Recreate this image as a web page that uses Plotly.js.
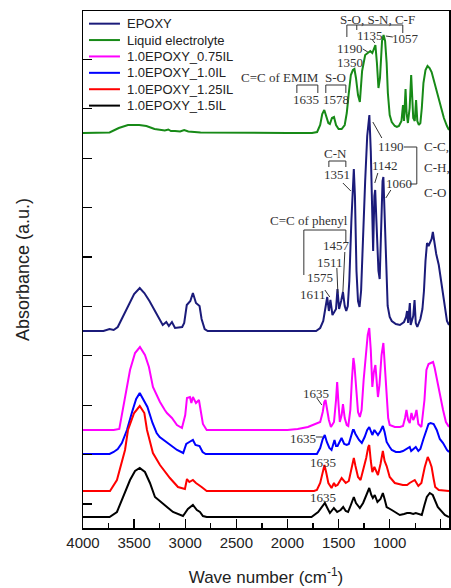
<!DOCTYPE html>
<html><head><meta charset="utf-8">
<script src="https://cdn.plot.ly/plotly-3.0.1.min.js"></script>
<style>html,body{margin:0;padding:0;background:#fff}#chart{width:451px;height:588px}</style>
</head><body><div id="chart"></div>
<script>
// Series names (legend order)
const seriesNames = ["EPOXY", "Liquid electrolyte", "1.0EPOXY_0.75IL", "1.0EPOXY_1.0IL", "1.0EPOXY_1.25IL", "1.0EPOXY_1.5IL"];
// Vertical stacking offsets (a.u.) of each spectrum
const offsets = [197, 395, 98, 74, 37, 11];
const colors = ["#1b1b7a", "#178a17", "#ff00ff", "#0000ff", "#ff0000", "#000000"];

// Wave numbers (cm-1) and relative absorbance
const epoxyWn = [4000,3800,3740,3700,3660,3620,3560,3500,3445,3400,3350,3318,3270,3220,3185,3160,3130,3100,3030,3010,2985,2950,2925,2895,2860,2840,2810,2780,1720,1680,1650,1630,1611,1595,1580,1560,1540,1525,1511,1495,1475,1457,1440,1425,1410,1395,1375,1360,1351,1340,1325,1310,1295,1280,1260,1240,1220,1205,1199,1185,1170,1162,1150,1142,1130,1110,1098,1085,1070,1062,1050,1035,1020,1000,980,940,900,860,840,830,820,810,803,795,770,757,745,730,700,680,665,650,635,620,605,590,578,565,545,520,500,480,460,440,420];
const epoxyA  = [0,0,2,1,4,12,25,37,43,38,30,24,15,6,9,5,9,3,4,8,26,30,38,28,25,12,2,0,0,3,10,22,34,20,31,16,20,22,42,22,30,39,25,20,25,50,110,155,162,135,60,30,24,40,100,150,195,213,216,180,115,80,135,141,110,60,52,100,150,154,120,60,25,14,10,7,6,9,14,20,8,20,28,6,15,31,8,4,12,22,40,70,88,85,88,92,99,90,77,66,52,35,20,10,6];

const liquidWn = [4000,3800,3740,3650,3560,3450,3380,3300,3200,3165,3140,3100,3050,3010,2970,2850,2500,2000,1760,1710,1680,1660,1640,1620,1600,1585,1565,1545,1525,1500,1470,1440,1420,1400,1380,1360,1345,1330,1310,1292,1270,1240,1215,1190,1170,1150,1140,1125,1110,1095,1075,1060,1045,1030,1018,1000,980,950,930,910,885,870,860,845,835,822,805,790,780,770,755,742,730,715,700,686,670,650,630,610,590,570,545,520,500,470,440,420];
const liquidA  = [0,0,0.5,5,8,8,7,4,2.5,3.5,2,2,1.5,3,1.5,0.5,0,0,0,1,8,19,23,17,10,9,15,16,8,4,4,8,20,40,58,63,64,55,38,31,62,78,80,82,80,85,88,70,45,55,92,98,92,70,40,18,11,7,6,7,12,28,12,44,20,10,25,58,40,15,12,33,12,8,10,25,50,63,67,65,61,53,43,33,25,15,7,3];

const il075Wn = [4000,3700,3645,3589,3540,3491,3443,3394,3355,3316,3247,3200,3179,3130,3081,3032,3000,2983,2954,2940,2925,2895,2866,2827,2790,2000,1900,1800,1720,1680,1655,1640,1628,1615,1595,1575,1545,1525,1514,1500,1488,1470,1457,1440,1420,1405,1385,1370,1355,1345,1330,1310,1292,1275,1255,1235,1215,1200,1185,1170,1155,1140,1128,1115,1100,1080,1062,1045,1030,1015,1000,950,900,870,850,836,820,804,787,770,755,738,720,690,660,641,620,600,576,560,543,520,500,478,450,420];
const il075A  = [0,0,1,33,60,77,83,75,63,43,28,20,17,12,5,2,15,32,33,27,33,27,30,6,0,0,1,3,6,8,18,28,30,22,10,3,8,30,48,25,8,15,26,12,5,4,20,50,72,65,40,18,13,20,50,75,95,102,80,43,58,65,50,33,45,75,87,60,30,12,5,3,3,4,12,20,10,7,17,10,13,20,6,3,30,60,66,67,68,62,53,40,30,20,8,3];

const il10Wn = [4000,3740,3700,3660,3620,3570,3520,3480,3445,3410,3370,3320,3280,3250,3180,3080,3020,2990,2960,2925,2900,2860,2830,2800,1740,1712,1680,1655,1635,1615,1590,1569,1540,1525,1510,1490,1471,1445,1420,1400,1380,1360,1351,1335,1300,1273,1245,1220,1200,1185,1170,1150,1130,1115,1090,1067,1050,1030,1000,980,940,900,870,840,804,790,770,745,720,700,670,637,620,600,570,540,510,478,440,420];
const il10A  = [0,0,2,5,11,24,42,55,61,55,47,31,21,17,12,4,1,10,12,14,9,8,2,0,0,0,6,15,19,12,6,4,14,8,8,12,16,10,9,10,18,24,24,20,14,11,17,24,27,23,19,24,21,19,23,28,22,12,7,4,2,2,3,5,7,3,5,7,3,5,15,24,30,31,30,24,15,11,4,2];

const il125Wn = [4000,3736,3668,3589,3560,3500,3445,3400,3374,3316,3247,3150,3071,3003,2983,2960,2925,2895,2840,2790,1740,1712,1680,1655,1638,1620,1600,1569,1545,1530,1510,1470,1430,1400,1380,1360,1351,1335,1310,1285,1260,1230,1210,1200,1185,1170,1150,1115,1090,1067,1050,1030,1000,950,872,830,805,755,720,690,657,628,610,590,570,555,520,420];
const il125A  = [0,0,11,41,61,78,85,78,61,38,26,13,4,2,12,9,11,8,4,0,0,1,8,20,26,18,8,3,8,5,6,13,8,10,20,32,33,25,14,11,20,33,44,46,30,19,24,16,27,40,30,25,14,8,6,6,8,11,5,8,24,34,30,24,12,4,1,0];

const il15Wn = [4000,3740,3668,3609,3540,3491,3445,3394,3345,3296,3218,3120,3022,2974,2925,2886,2856,2827,2790,1765,1700,1660,1634,1610,1585,1546,1514,1480,1455,1430,1407,1380,1351,1330,1292,1260,1230,1200,1180,1165,1146,1120,1090,1067,1050,1030,980,901,860,830,800,770,745,686,660,637,608,579,530,461,420];
const il15A  = [0,0,5,20,37,46,49,45,34,20,13,5,1,8,12,7,5,1,0,0,5,10,14,9,4,9,5,7,10,6,5,12,20,14,9,14,22,29,22,19,22,15,18,24,18,10,7,2,3,4,4,3,4,2,12,20,24,22,10,2,0];

// X axis ticks
const xMajorTicks = [4000, 3500, 3000, 2500, 2000, 1500, 1000, 500];
const xMinorTicks = [3750, 3250, 2750, 2250, 1750, 1250, 750];

const wnList = [epoxyWn, liquidWn, il075Wn, il10Wn, il125Wn, il15Wn];
const aList  = [epoxyA, liquidA, il075A, il10A, il125A, il15A];

const traces = seriesNames.map((name, i) => ({
  type: 'scatter', mode: 'lines', name: name,
  x: wnList[i],
  y: aList[i].map(v => v + offsets[i]),
  line: {color: colors[i], width: 2},
  showlegend: false,
  hoverinfo: 'skip'
}));

const serif = 'Liberation Serif, "Times New Roman", serif';
const lblFont = {family: serif, size: 13, color: '#333'};
function ann(text, x, y, anchor) {
  return {text: text, x: x, y: y, xref: 'x', yref: 'y', showarrow: false,
          font: lblFont, xanchor: anchor || 'center', yanchor: 'middle'};
}
const annotations = [
  ann('S-O, S-N, C-F', 1116, 509),
  ann('1135', 1195, 493),
  ann('1057', 848, 490),
  ann('1190', 1390, 480),
  ann('1350', 1390, 466),
  ann('C=C of EMIM', 2069, 451),
  ann('S-O', 1532, 451),
  ann('1635', 1815, 429),
  ann('1578', 1522, 429),
  ann('C-N', 1527, 375),
  ann('1351', 1517, 354),
  ann('1190', 984, 382),
  ann('C-C,', 686, 382, 'left'),
  ann('C-H,', 686, 361, 'left'),
  ann('C-O', 686, 336, 'left'),
  ann('1142', 1043, 363),
  ann('1060', 911, 345),
  ann('C=C of phenyl', 1791, 308),
  ann('1457', 1522, 283),
  ann('1511', 1586, 266),
  ann('1575', 1678, 251),
  ann('1611', 1747, 234),
  ann('1635', 1718, 135),
  ann('1635', 1850, 90),
  ann('1635', 1649, 66),
  ann('1635', 1649, 31)
];

const ln = {color: '#333', width: 1};
function seg(x0, y0, x1, y1) { return {type: 'line', xref: 'x', yref: 'y', x0: x0, y0: y0, x1: x1, y1: y1, line: ln}; }
function path(p) { return {type: 'path', xref: 'x', yref: 'y', path: p, line: ln}; }
const shapes = [
  path('M1419,491 L1419,503 L872,503 L872,495'),
  seg(1322, 503, 1322, 498),
  seg(1263, 479, 1214, 476),
  seg(1175, 489, 1146, 485),
  seg(970, 491, 1038, 492),
  path('M1908,435 L1908,443 L1703,443 L1703,435'),
  path('M1625,435 L1625,443 L1429,443 L1429,435'),
  path('M1595,361 L1595,367 L1429,367 L1429,361'),
  seg(1458, 345, 1380, 337),
  seg(1165, 406, 1077, 390),
  path('M862,381 L735,381 L735,344 L804,344'),
  seg(1116, 355, 1146, 345),
  seg(989, 338, 1038, 330),
  path('M1840,253 L1840,298 L1429,298 L1429,285'),
  seg(1439, 276, 1458, 236),
  seg(1517, 260, 1507, 235),
  seg(1634, 238, 1586, 231),
  seg(1713, 130, 1664, 123),
  seg(1722, 91, 1654, 91)
];

// Legend drawn in paper coordinates (compact row spacing as in the figure)
const legendTop = 0.9755, legendStep = 0.0317;
seriesNames.forEach((name, i) => {
  const yy = legendTop - i * legendStep;
  shapes.push({type: 'line', xref: 'paper', yref: 'paper', x0: 0.0164, x1: 0.101, y0: yy, y1: yy,
               line: {color: colors[i], width: 2}});
  annotations.push({text: name, x: 0.114, y: yy, xref: 'paper', yref: 'paper', showarrow: false,
                    xanchor: 'left', yanchor: 'middle',
                    font: {family: 'Liberation Sans, Arial, sans-serif', size: 13, color: '#222'}});
});

const layout = {
  width: 451, height: 588,
  margin: {l: 83, r: 2, t: 11, b: 60},
  paper_bgcolor: '#ffffff', plot_bgcolor: '#ffffff',
  font: {family: 'Liberation Sans, Arial, sans-serif', color: '#222'},
  showlegend: false,
  xaxis: {
    range: [4000, 420], tickmode: 'array', tickvals: xMajorTicks,
    ticks: 'inside', ticklen: 9, tickwidth: 1.3, tickcolor: '#000',
    minor: {tickmode: 'array', tickvals: xMinorTicks, ticks: 'inside', ticklen: 5, tickwidth: 1.3, tickcolor: '#000'},
    showline: true, linecolor: '#000', linewidth: 1.5, mirror: true,
    showgrid: false, zeroline: false,
    tickfont: {size: 15, color: '#222'},
    title: {text: 'Wave number (cm<sup>-1</sup>)', font: {size: 17, color: '#222'}, standoff: 21}
  },
  yaxis: {
    range: [0, 517], tickmode: 'linear', tick0: 24, dtick: 49.4,
    ticks: 'inside', ticklen: 9, tickwidth: 1.3, tickcolor: '#000',
    showticklabels: false,
    showline: true, linecolor: '#000', linewidth: 1.5, mirror: true,
    showgrid: false, zeroline: false,
    title: {text: 'Absorbance (a.u.)', font: {size: 18, color: '#222'}, standoff: 47}
  },
  annotations: annotations,
  shapes: shapes
};

Plotly.newPlot('chart', traces, layout, {displayModeBar: false, staticPlot: true});
</script>
</body></html>
